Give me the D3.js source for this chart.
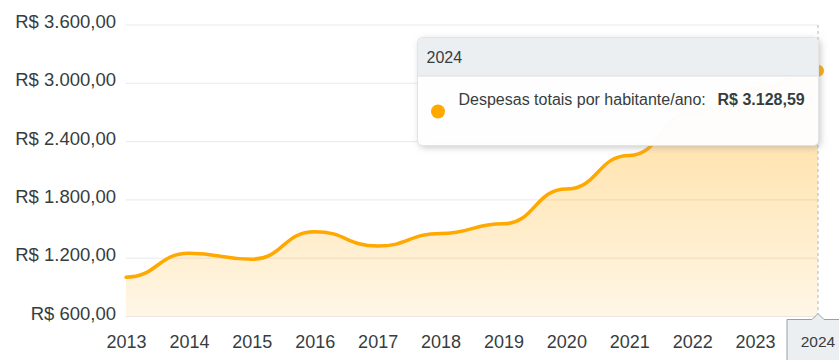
<!DOCTYPE html>
<html>
<head>
<meta charset="utf-8">
<script src="https://cdn.jsdelivr.net/npm/d3@7/dist/d3.min.js"></script>
<style>
  html, body { margin: 0; padding: 0; background: #fff; }
  svg { display: block; font-family: "Liberation Sans", Arial, Helvetica, sans-serif; }
</style>
</head>
<body>
<svg id="chart" width="839" height="360"></svg>
<script>
// Despesas totais por habitante/ano (R$)
const years = [2013, 2014, 2015, 2016, 2017, 2018, 2019, 2020, 2021, 2022, 2023, 2024];
const despesas = [1005, 1250, 1190, 1473, 1325, 1455, 1555, 1912, 2258, 2700, 2950, 3128.59];
const yTicks = [600, 1200, 1800, 2400, 3000, 3600];
const seriesName = "Despesas totais por habitante/ano";
const activeYear = 2024;

const W = 839, H = 360;
const margin = { left: 126, right: 21, top: 25, bottom: 43.5 };
const lineColor = "#FFA800";
const textColor = "#373d3f";

const brl = d3.formatLocale({ decimal: ",", thousands: ".", grouping: [3], currency: ["R$ ", ""] });
const money = brl.format("$,.2f");

const svg = d3.select("#chart");

const x = d3.scalePoint().domain(years).range([margin.left, W - margin.right]);
const y = d3.scaleLinear().domain([600, 3600]).range([H - margin.bottom, margin.top]);

const defs = svg.append("defs");
const grad = defs.append("linearGradient")
  .attr("id", "areaFill").attr("gradientUnits", "userSpaceOnUse")
  .attr("x1", 0).attr("x2", 0).attr("y1", y(3600)).attr("y2", y(600));
grad.append("stop").attr("offset", "0%").attr("stop-color", lineColor).attr("stop-opacity", 0.46);
grad.append("stop").attr("offset", "100%").attr("stop-color", lineColor).attr("stop-opacity", 0.1);

const shadow = defs.append("filter").attr("id", "tipShadow")
  .attr("x", "-10%").attr("y", "-10%").attr("width", "130%").attr("height", "140%");
shadow.append("feDropShadow").attr("dx", 2).attr("dy", 2).attr("stdDeviation", 3)
  .attr("flood-color", "#999").attr("flood-opacity", 0.5);

// horizontal grid
svg.append("g")
  .selectAll("line").data(yTicks).join("line")
  .attr("x1", x(years[0])).attr("x2", x(years[years.length - 1]))
  .attr("y1", d => y(d)).attr("y2", d => y(d))
  .attr("stroke", "#e9e9e9").attr("stroke-width", 1);

// y axis labels
const yAxis = svg.append("g")
  .attr("transform", `translate(${margin.left - 10},0)`)
  .call(d3.axisLeft(y).tickValues(yTicks).tickFormat(money).tickSize(0).tickPadding(0));
yAxis.select(".domain").remove();
yAxis.selectAll("text")
  .attr("font-size", 18.5).attr("fill", textColor)
  .attr("font-family", "Liberation Sans, Arial, sans-serif")
  .attr("dy", null).attr("y", 2.5);

// x axis labels
const xAxis = svg.append("g")
  .attr("transform", `translate(0,${H - margin.bottom})`)
  .call(d3.axisBottom(x).tickSize(0).tickPadding(0).tickFormat(d => d === activeYear ? "" : String(d)));
xAxis.select(".domain").remove();
xAxis.selectAll("text")
  .attr("font-size", 18).attr("fill", textColor)
  .attr("font-family", "Liberation Sans, Arial, sans-serif")
  .attr("dy", null).attr("y", 31.5);

const pts = years.map((yr, i) => [x(yr), y(despesas[i])]);

// area + line
svg.append("path")
  .datum(pts)
  .attr("fill", "url(#areaFill)")
  .attr("d", d3.area().x(d => d[0]).y0(y(600)).y1(d => d[1]).curve(d3.curveBumpX));

svg.append("path")
  .datum(pts)
  .attr("fill", "none").attr("stroke", lineColor).attr("stroke-width", 3.5)
  .attr("stroke-linecap", "round")
  .attr("d", d3.line().x(d => d[0]).y(d => d[1]).curve(d3.curveBumpX));

// crosshair on the active year
const ax = x(activeYear);
const av = despesas[years.indexOf(activeYear)];
svg.append("line")
  .attr("x1", ax).attr("x2", ax).attr("y1", y(3600)).attr("y2", y(600))
  .attr("stroke", "#b6b6b6").attr("stroke-width", 1).attr("stroke-dasharray", "3,3");

svg.append("circle")
  .attr("cx", ax).attr("cy", y(av)).attr("r", 6)
  .attr("fill", lineColor);

// x-axis tooltip for the active year
const xt = svg.append("g");
const xtW = 62, xtTop = 319.5;
xt.append("path")
  .attr("d", `M${ax - xtW / 2},${xtTop} H${ax - 6} L${ax},${xtTop - 6} L${ax + 6},${xtTop} H${ax + xtW / 2} V${H + 5} H${ax - xtW / 2} Z`)
  .attr("fill", "#eceff1").attr("stroke", "#90a4ae").attr("stroke-width", 1);
xt.append("text")
  .attr("x", ax).attr("y", 346.5).attr("text-anchor", "middle")
  .attr("font-size", 15.5).attr("fill", textColor).text(String(activeYear));

// series tooltip
const tip = svg.append("g").attr("transform", "translate(417.5,37.5)");
const tipW = 401, tipH = 108, headH = 38.5;
tip.append("rect")
  .attr("width", tipW).attr("height", tipH).attr("rx", 5)
  .attr("fill", "rgba(255,255,255,0.96)").attr("stroke", "#e3e3e3")
  .attr("filter", "url(#tipShadow)");
tip.append("path")
  .attr("d", `M0.5,${headH} V5 Q0.5,0.5 5,0.5 H${tipW - 5} Q${tipW - 0.5},0.5 ${tipW - 0.5},5 V${headH} Z`)
  .attr("fill", "#eceff1");
tip.append("line")
  .attr("x1", 0.5).attr("x2", tipW - 0.5).attr("y1", headH).attr("y2", headH)
  .attr("stroke", "#dddddd");
tip.append("text")
  .attr("x", 9).attr("y", 25).attr("font-size", 16).attr("fill", textColor)
  .text(String(activeYear));
tip.append("circle")
  .attr("cx", 20.5).attr("cy", 74).attr("r", 7).attr("fill", lineColor);
const row = tip.append("text")
  .attr("x", 41).attr("y", 67.5).attr("font-size", 16).attr("fill", textColor);
row.append("tspan").text(seriesName + ":");
row.append("tspan").attr("x", 300).attr("font-weight", "bold").text(money(av));
</script>
</body>
</html>
